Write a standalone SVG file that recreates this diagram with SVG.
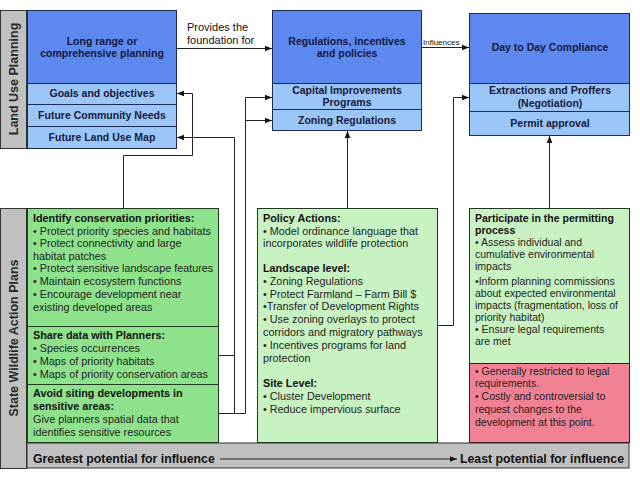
<svg xmlns="http://www.w3.org/2000/svg" width="640" height="480" viewBox="0 0 640 480">
<defs>
<marker id="ah" viewBox="0 0 8 8" refX="8" refY="4" markerWidth="7" markerHeight="7" markerUnits="userSpaceOnUse" orient="auto">
<path d="M0,0.8 L8,4 L0,7.2 Z" fill="#111"/>
</marker>
<style>
.lbl{fill:#c0c0c0;stroke:#333;stroke-width:1}
.lblt{font-family:"Liberation Sans",Arial,sans-serif;font-weight:bold;font-size:12.5px;fill:#2a2a2a;text-anchor:middle}
.dk{fill:#5c88ef;stroke:#1c2a55;stroke-width:1}
.lt{fill:#9cc6f8;stroke:#1c2a55;stroke-width:1}
.bt{font-family:"Liberation Sans",Arial,sans-serif;font-weight:bold;font-size:10.5px;fill:#141a3c;text-anchor:middle}
.g1{fill:#8fe28c;stroke:#1f3a1f;stroke-width:1}
.g2{fill:#c8f2c2;stroke:#1f3a1f;stroke-width:1}
.rd{fill:#f08294;stroke:#3a1f1f;stroke-width:1}
.t{font-family:"Liberation Sans",Arial,sans-serif;font-size:10.8px;fill:#1e1e1e}
.tb{font-family:"Liberation Sans",Arial,sans-serif;font-size:10.8px;font-weight:bold;fill:#111}
.r{font-size:10.5px}
.c{fill:none;stroke:#222;stroke-width:1}
.ca{fill:none;stroke:#222;stroke-width:1;marker-end:url(#ah)}
.small{font-family:"Liberation Sans",Arial,sans-serif;font-size:11px;fill:#111}
.bar{font-family:"Liberation Sans",Arial,sans-serif;font-weight:bold;font-size:12.3px;fill:#111}
</style>
</defs>
<rect width="640" height="480" fill="#fff"/>

<g id="label-land-use">
<rect class="lbl" x="0.5" y="10.5" width="26" height="138"/>
<text class="lblt" transform="translate(18,79) rotate(-90)">Land Use Planning</text>
</g>
<g id="label-swap">
<rect class="lbl" x="0.5" y="208.5" width="26" height="260"/>
<text class="lblt" transform="translate(18,338) rotate(-90)">State Wildlife Action Plans</text>
</g>
<g id="bottom-bar">
<rect class="lbl" x="27" y="443" width="602" height="25"/>
<text class="bar" x="33" y="463">Greatest potential for influence</text>
<text class="bar" x="460" y="463">Least potential for influence</text>
<line class="ca" x1="220" y1="459" x2="457" y2="459"/>
</g>

<g id="long-range">
<rect class="dk" x="27.5" y="10.5" width="149" height="73"/>
<text class="bt" x="102" y="45">Long range or</text>
<text class="bt" x="102" y="57">comprehensive planning</text>
</g>
<g id="goals">
<rect class="lt" x="27.5" y="83.5" width="149" height="21"/>
<text class="bt" x="102" y="97">Goals and objectives</text>
</g>
<g id="community-needs">
<rect class="lt" x="27.5" y="104.5" width="149" height="22"/>
<text class="bt" x="102" y="119">Future Community Needs</text>
</g>
<g id="land-use-map">
<rect class="lt" x="27.5" y="126.5" width="149" height="22"/>
<text class="bt" x="102" y="141">Future Land Use Map</text>
</g>

<g id="regulations">
<rect class="dk" x="272.5" y="10.5" width="149" height="73"/>
<text class="bt" x="347" y="45">Regulations, incentives</text>
<text class="bt" x="347" y="57">and policies</text>
</g>
<g id="cip">
<rect class="lt" x="272.5" y="83.5" width="149" height="26"/>
<text class="bt" x="347" y="94">Capital Improvements</text>
<text class="bt" x="347" y="106">Programs</text>
</g>
<g id="zoning">
<rect class="lt" x="272.5" y="109.5" width="149" height="21"/>
<text class="bt" x="347" y="124">Zoning Regulations</text>
</g>

<g id="compliance">
<rect class="dk" x="469.5" y="13.5" width="160" height="70"/>
<text class="bt" x="550" y="51">Day to Day Compliance</text>
</g>
<g id="extractions">
<rect class="lt" x="469.5" y="83.5" width="160" height="28"/>
<text class="bt" x="550" y="94">Extractions and Proffers</text>
<text class="bt" x="550" y="107">(Negotiation)</text>
</g>
<g id="permit">
<rect class="lt" x="469.5" y="111.5" width="160" height="24"/>
<text class="bt" x="550" y="127">Permit approval</text>
</g>

<g id="identify">
<rect class="g1" x="27.5" y="208.5" width="191" height="118"/>
<text class="tb" x="33" y="222">Identify conservation priorities:</text>
<text class="t" x="33" y="235">• Protect priority species and habitats</text>
<text class="t" x="33" y="247">• Protect connectivity and large</text>
<text class="t" x="33" y="260">habitat patches</text>
<text class="t" x="33" y="272">• Protect sensitive landscape features</text>
<text class="t" x="33" y="285">• Maintain ecosystem functions</text>
<text class="t" x="33" y="298">• Encourage development near</text>
<text class="t" x="33" y="311">existing developed areas</text>
</g>
<g id="share">
<rect class="g1" x="27.5" y="326.5" width="191" height="58"/>
<text class="tb" x="33" y="339">Share data with Planners:</text>
<text class="t" x="33" y="352">• Species occurrences</text>
<text class="t" x="33" y="365">• Maps of priority habitats</text>
<text class="t" x="33" y="378">• Maps of priority conservation areas</text>
</g>
<g id="avoid">
<rect class="g1" x="27.5" y="384.5" width="191" height="58"/>
<text class="tb" x="33" y="397">Avoid siting developments in</text>
<text class="tb" x="33" y="410">sensitive areas:</text>
<text class="t" x="33" y="423">Give planners spatial data that</text>
<text class="t" x="33" y="436">identifies sensitive resources</text>
</g>

<g id="policy">
<rect class="g2" x="257.5" y="208.5" width="180" height="234"/>
<text class="tb" x="263" y="222">Policy Actions:</text>
<text class="t" x="263" y="235">• Model ordinance language that</text>
<text class="t" x="263" y="247">incorporates wildlife protection</text>
<text class="tb" x="263" y="272">Landscape level:</text>
<text class="t" x="263" y="285">• Zoning Regulations</text>
<text class="t" x="263" y="298">• Protect Farmland – Farm Bill $</text>
<text class="t" x="263" y="310">•Transfer of Development Rights</text>
<text class="t" x="263" y="323">• Use zoning overlays to protect</text>
<text class="t" x="263" y="336">corridors and migratory pathways</text>
<text class="t" x="263" y="349">• Incentives programs for land</text>
<text class="t" x="263" y="362">protection</text>
<text class="tb" x="263" y="387">Site Level:</text>
<text class="t" x="263" y="400">• Cluster Development</text>
<text class="t" x="263" y="413">• Reduce impervious surface</text>
</g>

<g id="permitting">
<rect class="g2" x="469.5" y="208.5" width="160" height="155"/>
<text class="tb r" x="475" y="222">Participate in the permitting</text>
<text class="tb r" x="475" y="234">process</text>
<text class="t r" x="475" y="246">• Assess individual and</text>
<text class="t r" x="475" y="258">cumulative environmental</text>
<text class="t r" x="475" y="270">impacts</text>
<text class="t r" x="475" y="285">•Inform planning commissions</text>
<text class="t r" x="475" y="297">about expected environmental</text>
<text class="t r" x="475" y="309">impacts (fragmentation, loss of</text>
<text class="t r" x="475" y="321">priority habitat)</text>
<text class="t r" x="475" y="333">• Ensure legal requirements</text>
<text class="t r" x="475" y="345">are met</text>
</g>
<g id="restricted">
<rect class="rd" x="469.5" y="363.5" width="160" height="79"/>
<text class="t r" x="475" y="375">• Generally restricted to legal</text>
<text class="t r" x="475" y="387">requirements.</text>
<text class="t r" x="475" y="400">• Costly and controversial to</text>
<text class="t r" x="475" y="413">request changes to the</text>
<text class="t r" x="475" y="426">development at this point.</text>
</g>

<g id="connectors">
<line class="ca" x1="176" y1="48.5" x2="272" y2="48.5"/>
<text class="small" x="187" y="31">Provides the</text>
<text class="small" x="187" y="44">foundation for</text>
<line class="ca" x1="421" y1="47.5" x2="469" y2="47.5"/>
<text class="small" x="423" y="45" style="font-size:8px">Influences</text>
<path class="ca" d="M123.5,208 V155.5 H192.5 V93.5 H177"/>
<path class="c" d="M218,355.5 H234.5"/>
<path class="ca" d="M234.5,413 V137.5 H177"/>
<path class="ca" d="M218,413.5 H245.5 V97.5 H272"/>
<path class="ca" d="M245.5,120.5 H272"/>
<path class="ca" d="M347.5,208 V131"/>
<path class="ca" d="M437,325.5 H453.5 V97.5 H469"/>
<path class="ca" d="M549.5,208 V136"/>
</g>
</svg>
